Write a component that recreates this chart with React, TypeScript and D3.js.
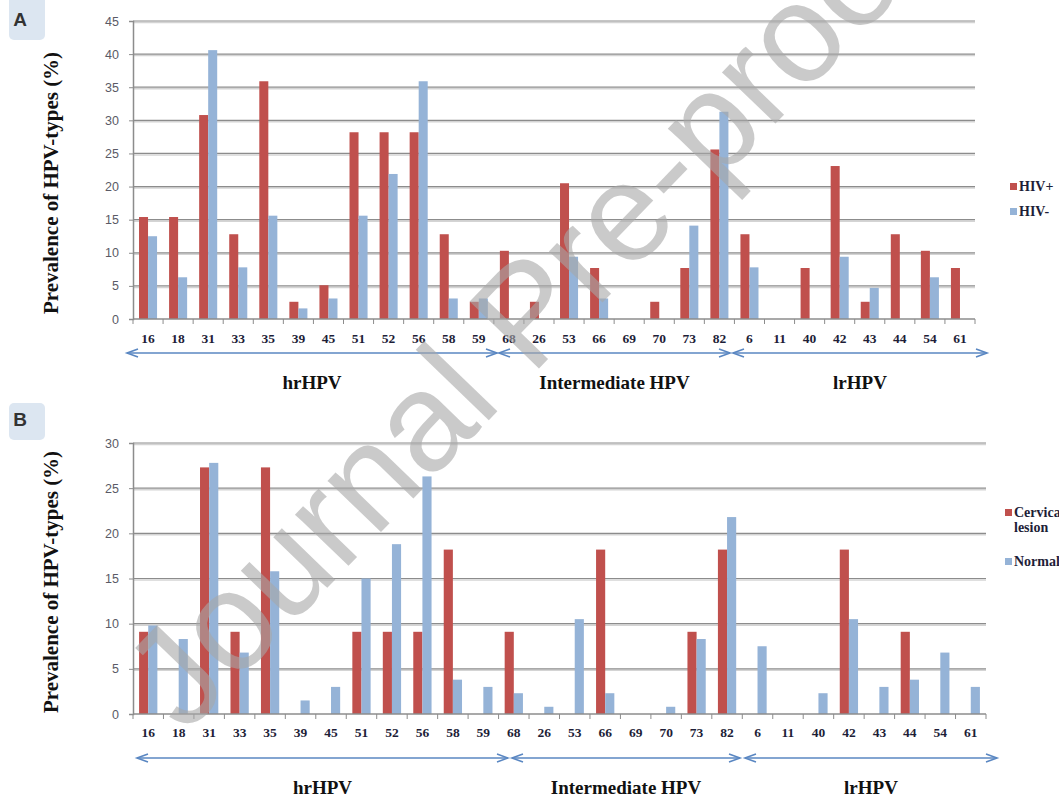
import { useEffect, useRef } from 'react';
import * as d3 from 'd3';

const hpvTypes = ["16", "18", "31", "33", "35", "39", "45", "51", "52", "56", "58", "59", "68", "26", "53", "66", "69", "70", "73", "82", "6", "11", "40", "42", "43", "44", "54", "61"];

// Panel A: HIV+ / HIV-
const hivPos = [15.4, 15.4, 30.8, 12.8, 35.9, 2.6, 5.1, 28.2, 28.2, 28.2, 12.8, 2.6, 10.3, 2.6, 20.5, 7.7, 0, 2.6, 7.7, 25.6, 12.8, 0, 7.7, 23.1, 2.6, 12.8, 10.3, 7.7];
const hivNeg = [12.5, 6.3, 40.6, 7.8, 15.6, 1.6, 3.1, 15.6, 21.9, 35.9, 3.1, 3.1, 0, 0, 9.4, 3.1, 0, 0, 14.1, 31.3, 7.8, 0, 0, 9.4, 4.7, 0, 6.3, 0];

// Panel B: cervical lesion / normal
const lesion = [9.1, 0, 27.3, 9.1, 27.3, 0, 0, 9.1, 9.1, 9.1, 18.2, 0, 9.1, 0, 0, 18.2, 0, 0, 9.1, 18.2, 0, 0, 0, 18.2, 0, 9.1, 0, 0];
const normal = [9.8, 8.3, 27.8, 6.8, 15.8, 1.5, 3.0, 15.0, 18.8, 26.3, 3.8, 3.0, 2.3, 0.8, 10.5, 2.3, 0, 0.8, 8.3, 21.8, 7.5, 0, 2.3, 10.5, 3.0, 3.8, 6.8, 3.0];

// risk groups
const groups = ["hrHPV", "Intermediate HPV", "lrHPV"];

const RED = "#c0504d";
const BLUE = "#95b3d7";
const SERIF = "'Liberation Serif', 'Times New Roman', serif";
const SANS = "'Liberation Sans', Arial, sans-serif";

interface PanelCfg {
  letter: string;
  top: number;      // y of max value
  bottom: number;   // y of zero
  right: number;
  yMax: number;
  series: number[][];
  legend: string[][];
  legendY: number[];
  legendX: number;
  arrowY: number;
  arrowSpan: [number, number][];
  groupY: number;
  labelY: number;
  titleY: number;
  boxY: number;
  boxH: number;
  letterY: number;
}

export default function App() {
  const svgRef = useRef<SVGSVGElement>(null);

  useEffect(() => {
    if (!svgRef.current) return;
    const svg = d3.select(svgRef.current);
    svg.selectAll("*").remove();

    const left = 133;

    const panels: PanelCfg[] = [
      {
        letter: "A", top: 21, bottom: 319, right: 975, yMax: 45,
        series: [hivPos, hivNeg], legend: [["HIV+"], ["HIV-"]], legendY: [187, 212], legendX: 1010,
        arrowY: 353, arrowSpan: [[127, 497], [499, 730], [733, 987]],
        groupY: 389, labelY: 343, titleY: 183, boxY: -10, boxH: 50, letterY: 26,
      },
      {
        letter: "B", top: 443, bottom: 714, right: 986, yMax: 30,
        series: [lesion, normal], legend: [["Cervical", "lesion"], ["Normal"]], legendY: [513, 562], legendX: 1005,
        arrowY: 758, arrowSpan: [[137, 508], [512, 740], [745, 997]],
        groupY: 794, labelY: 737, titleY: 582, boxY: 403, boxH: 37, letterY: 426,
      },
    ];

    panels.forEach(p => {
      const g = svg.append("g");

      const x = d3.scaleBand<string>()
        .domain(hpvTypes)
        .range([left, p.right])
        .paddingInner(0.4)
        .paddingOuter(0.2);

      const x1 = d3.scaleBand<number>()
        .domain([0, 1])
        .range([0, x.bandwidth()]);

      const y = d3.scaleLinear()
        .domain([0, p.yMax])
        .range([p.bottom, p.top]);

      // panel letter box
      g.append("rect")
        .attr("x", 9).attr("y", p.boxY)
        .attr("width", 36).attr("height", p.boxH)
        .attr("rx", 5)
        .attr("fill", "#dce6f1");
      g.append("text")
        .attr("x", 20).attr("y", p.letterY)
        .attr("text-anchor", "middle")
        .attr("font-family", SANS)
        .attr("font-weight", "bold")
        .attr("font-size", 19)
        .attr("fill", "#333")
        .text(p.letter);

      // gridlines
      const ticks = d3.range(0, p.yMax + 1, 5);
      ticks.filter(t => t > 0).forEach(t => {
        g.append("line")
          .attr("x1", left).attr("x2", p.right)
          .attr("y1", y(t) + 1.5).attr("y2", y(t) + 1.5)
          .attr("stroke", "#d4d4d4").attr("stroke-width", 1.5);
        g.append("line")
          .attr("x1", left).attr("x2", p.right)
          .attr("y1", y(t)).attr("y2", y(t))
          .attr("stroke", "#8c8c8c").attr("stroke-width", 1.2);
      });

      // bars
      p.series.forEach((vals, si) => {
        g.append("g")
          .selectAll("rect")
          .data(vals)
          .join("rect")
          .attr("x", (_d, i) => (x(hpvTypes[i]) as number) + (x1(si) as number))
          .attr("y", d => y(d))
          .attr("width", x1.bandwidth())
          .attr("height", d => y(0) - y(d))
          .attr("fill", si === 0 ? RED : BLUE);
      });

      // y axis
      const yAxis = g.append("g")
        .attr("transform", `translate(${left},0)`)
        .call(d3.axisLeft(y).tickValues(ticks).tickSize(4).tickPadding(10));
      yAxis.select(".domain").attr("stroke", "#8c8c8c").attr("stroke-width", 1.5);
      yAxis.selectAll(".tick line").attr("stroke", "#8c8c8c");
      yAxis.selectAll(".tick text")
        .attr("font-family", SANS)
        .attr("font-size", 12.5)
        .attr("fill", "#5a5a66");

      // x axis baseline + ticks between categories
      g.append("line")
        .attr("x1", left).attr("x2", p.right)
        .attr("y1", p.bottom).attr("y2", p.bottom)
        .attr("stroke", "#8c8c8c").attr("stroke-width", 1.5);
      const step = x.step();
      d3.range(hpvTypes.length + 1).forEach(i => {
        const tx = left + i * step;
        g.append("line")
          .attr("x1", tx).attr("x2", tx)
          .attr("y1", p.bottom).attr("y2", p.bottom + 5)
          .attr("stroke", "#8c8c8c");
      });
      g.append("g")
        .selectAll("text")
        .data(hpvTypes)
        .join("text")
        .attr("x", d => (x(d) as number) + x.bandwidth() / 2)
        .attr("y", p.labelY)
        .attr("text-anchor", "middle")
        .attr("font-family", SERIF)
        .attr("font-weight", "bold")
        .attr("font-size", 13.5)
        .attr("fill", "#1e1e38")
        .text(d => d);

      // y title
      g.append("text")
        .attr("transform", `translate(58,${p.titleY}) rotate(-90)`)
        .attr("text-anchor", "middle")
        .attr("font-family", SERIF)
        .attr("font-weight", "bold")
        .attr("font-size", 21)
        .attr("fill", "#111")
        .text("Prevalence of HPV-types (%)");

      // group arrows
      p.arrowSpan.forEach(([a, b], gi) => {
        const ag = g.append("g")
          .attr("stroke", "#5a87c2")
          .attr("stroke-width", 1.6)
          .attr("fill", "none");
        ag.append("line")
          .attr("x1", a).attr("x2", b)
          .attr("y1", p.arrowY).attr("y2", p.arrowY);
        ag.append("path")
          .attr("d", `M${a + 11},${p.arrowY - 4}L${a},${p.arrowY}L${a + 11},${p.arrowY + 4}`);
        ag.append("path")
          .attr("d", `M${b - 11},${p.arrowY - 4}L${b},${p.arrowY}L${b - 11},${p.arrowY + 4}`);

        g.append("text")
          .attr("x", (a + b) / 2)
          .attr("y", p.groupY)
          .attr("text-anchor", "middle")
          .attr("font-family", SERIF)
          .attr("font-weight", "bold")
          .attr("font-size", 19)
          .attr("fill", "#111")
          .text(groups[gi]);
      });

      // legend
      p.legend.forEach((lines, li) => {
        const ly = p.legendY[li];
        g.append("rect")
          .attr("x", p.legendX).attr("y", ly - 4)
          .attr("width", 7).attr("height", 7)
          .attr("fill", li === 0 ? RED : BLUE);
        lines.forEach((t, k) => {
          g.append("text")
            .attr("x", p.legendX + 9)
            .attr("y", ly + 4 + k * 15)
            .attr("font-family", SERIF)
            .attr("font-weight", "bold")
            .attr("font-size", 14)
            .attr("fill", "#1e1e38")
            .text(t);
        });
      });
    });

    // watermark
    svg.append("text")
      .attr("transform", "translate(185,735) rotate(-46)")
      .attr("font-family", SANS)
      .attr("font-size", 140)
      .attr("fill", "#a8a8a8")
      .attr("opacity", 0.6)
      .text("Journal Pre-proof");
  }, []);

  return (
    <svg
      ref={svgRef}
      width={1059}
      height={801}
      style={{ position: "absolute", left: 0, top: 0, background: "#fff" }}
    />
  );
}
